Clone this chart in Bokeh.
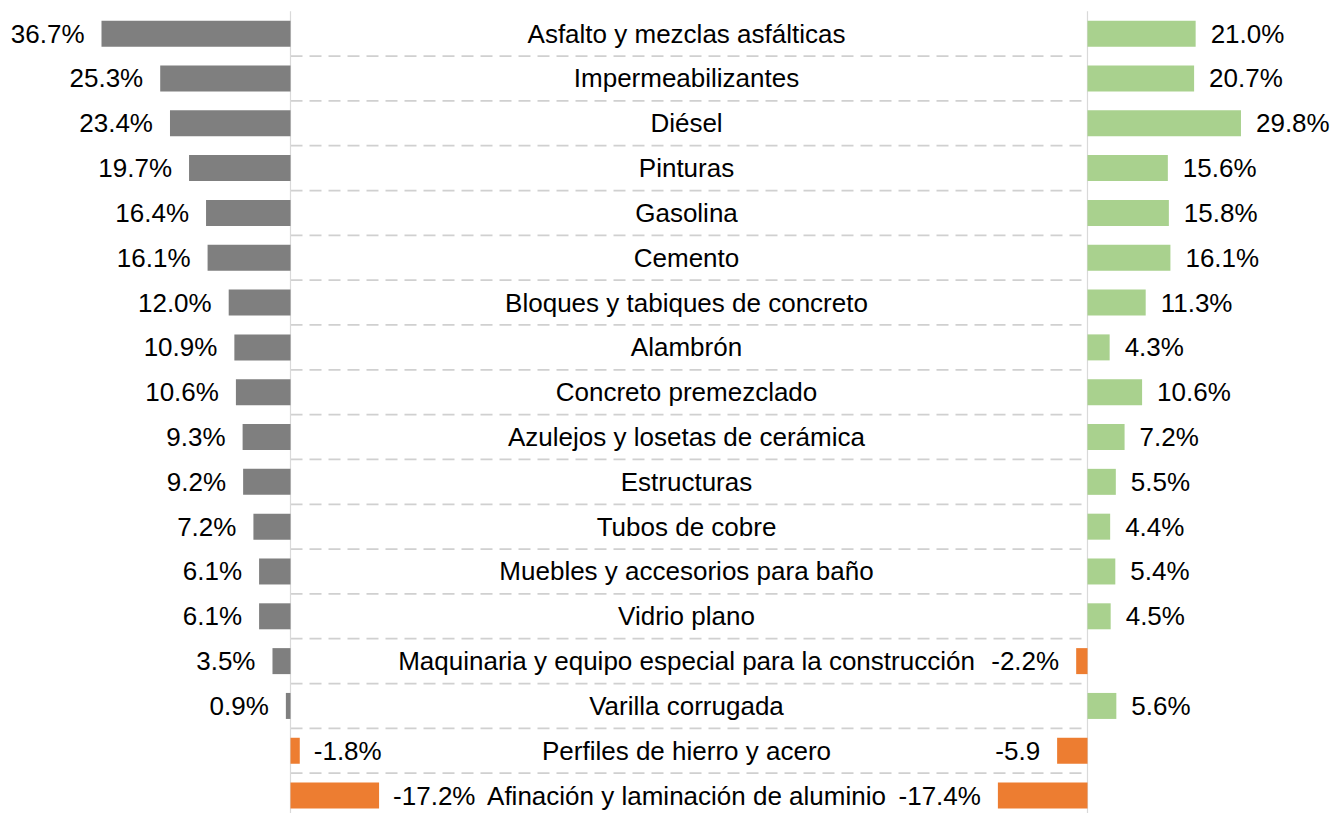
from bokeh.plotting import figure
from bokeh.models import Range1d, ColumnDataSource
from bokeh.core.properties import value
from bokeh.embed import file_html
from bokeh.resources import INLINE

categories = [
    "Asfalto y mezclas asfálticas",
    "Impermeabilizantes",
    "Diésel",
    "Pinturas",
    "Gasolina",
    "Cemento",
    "Bloques y tabiques de concreto",
    "Alambrón",
    "Concreto premezclado",
    "Azulejos y losetas de cerámica",
    "Estructuras",
    "Tubos de cobre",
    "Muebles y accesorios para baño",
    "Vidrio plano",
    "Maquinaria y equipo especial para la construcción",
    "Varilla corrugada",
    "Perfiles de hierro y acero",
    "Afinación y laminación de aluminio",
]
left_values = [36.7, 25.3, 23.4, 19.7, 16.4, 16.1, 12.0, 10.9, 10.6, 9.3, 9.2,
               7.2, 6.1, 6.1, 3.5, 0.9, -1.8, -17.2]
left_labels = ["36.7%", "25.3%", "23.4%", "19.7%", "16.4%", "16.1%", "12.0%",
               "10.9%", "10.6%", "9.3%", "9.2%", "7.2%", "6.1%", "6.1%",
               "3.5%", "0.9%", "-1.8%", "-17.2%"]
right_values = [21.0, 20.7, 29.8, 15.6, 15.8, 16.1, 11.3, 4.3, 10.6, 7.2, 5.5,
                4.4, 5.4, 4.5, -2.2, 5.6, -5.9, -17.4]
right_labels = ["21.0%", "20.7%", "29.8%", "15.6%", "15.8%", "16.1%", "11.3%",
                "4.3%", "10.6%", "7.2%", "5.5%", "4.4%", "5.4%", "4.5%",
                "-2.2%", "5.6%", "-5.9", "-17.4%"]

GREY = "#7f7f7f"
GREEN = "#a9d18e"
ORANGE = "#ed7d31"
FONT = "Liberation Sans"
FS = "26px"

W, H = 1340, 813
LEFT_ZERO_PX = 290
RIGHT_ZERO_PX = 1087
CENTER_PX = 686
PX_PER_UNIT = 5.15

n = len(categories)
rows = list(range(n))

p = figure(width=W, height=H, output_backend="svg", toolbar_location=None,
           x_range=Range1d(0, W), y_range=Range1d(n - 0.6, -0.74),
           min_border=0, outline_line_color=None)
p.axis.visible = False
p.grid.visible = False
p.background_fill_color = "white"
p.border_fill_color = "white"

p.extra_x_ranges = {
    "left": Range1d(LEFT_ZERO_PX / PX_PER_UNIT, -(W - LEFT_ZERO_PX) / PX_PER_UNIT),
    "right": Range1d(-RIGHT_ZERO_PX / PX_PER_UNIT, (W - RIGHT_ZERO_PX) / PX_PER_UNIT),
}

# dashed separators between rows in the centre
sep_y = [i + 0.5 for i in range(n - 1)]
p.segment(x0=[LEFT_ZERO_PX] * len(sep_y), x1=[RIGHT_ZERO_PX] * len(sep_y),
          y0=sep_y, y1=sep_y, line_color="#d0d0d0", line_width=1.75,
          line_dash="12 7")

# vertical axis lines
p.segment(x0=[LEFT_ZERO_PX, RIGHT_ZERO_PX], x1=[LEFT_ZERO_PX, RIGHT_ZERO_PX],
          y0=[-0.5, -0.5], y1=[n, n], line_color="#d9d9d9", line_width=1.2)

def side_source(vals, labels, pos_color, pos_align, neg_align, pos_off, neg_off):
    colors = [pos_color if v >= 0 else ORANGE for v in vals]
    aligns = [pos_align if v >= 0 else neg_align for v in vals]
    offs = [pos_off if v >= 0 else neg_off for v in vals]
    return ColumnDataSource(dict(y=rows, v=vals, zero=[0] * n, lab=labels,
                                 color=colors, align=aligns, off=offs))

# left panel (reversed axis: positive values grow to the left)
ls = side_source(left_values, left_labels, GREY, "right", "left", -17, 14)
p.hbar(y="y", left="zero", right="v", height=0.58, source=ls,
       fill_color="color", line_color=None, x_range_name="left")
p.text(x="v", y="y", text="lab", source=ls, x_range_name="left",
       text_align="align", x_offset="off", text_baseline="middle",
       text_font=value(FONT), text_font_size=FS, text_color="#000000")

# right panel
rs = side_source(right_values, right_labels, GREEN, "left", "right", 15, -17)
p.hbar(y="y", left="zero", right="v", height=0.58, source=rs,
       fill_color="color", line_color=None, x_range_name="right")
p.text(x="v", y="y", text="lab", source=rs, x_range_name="right",
       text_align="align", x_offset="off", text_baseline="middle",
       text_font=value(FONT), text_font_size=FS, text_color="#000000")

# centre category labels
p.text(x=[CENTER_PX] * n, y=rows, text=categories, text_align="center",
       text_baseline="middle", text_font=value(FONT), text_font_size=FS,
       text_color="#000000")

open("out.html", "w").write(file_html(p, INLINE))
